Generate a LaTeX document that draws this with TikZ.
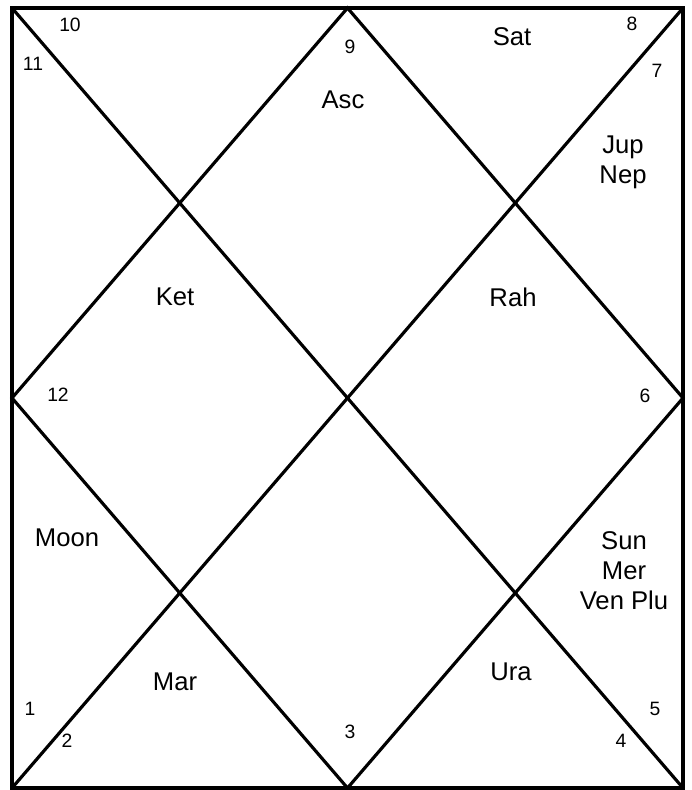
\documentclass[tikz,border=0pt]{standalone}
\usepackage{fontspec}
\setmainfont{Liberation Sans}
\usepackage{tikz}
\usetikzlibrary{calc}

\begin{document}
\begin{tikzpicture}[x=0.02cm, y=-0.02cm, line width=1.8pt]
\tikzset{planet/.style={font=\fontsize{14.6pt}{17pt}\selectfont, align=center, inner sep=0pt},
         housenum/.style={font=\fontsize{11pt}{12pt}\selectfont, inner sep=0pt}}
\useasboundingbox (0,0) rectangle (692,790);
% Frame and corners
\coordinate (tl) at (12,8);
\coordinate (tr) at (683,8);
\coordinate (br) at (683,788);
\coordinate (bl) at (12,788);
\coordinate (tm) at ($(tl)!0.5!(tr)$);
\coordinate (rm) at ($(tr)!0.5!(br)$);
\coordinate (bm) at ($(bl)!0.5!(br)$);
\coordinate (lm) at ($(tl)!0.5!(bl)$);
\draw (tl) -- (tr) -- (br) -- (bl) -- cycle;
\draw (tl) -- (br);
\draw (tr) -- (bl);
\draw (tm) -- (rm) -- (bm) -- (lm) -- cycle;
% House numbers
\node[housenum] (h10) at (70,25) {10};
\node[housenum] (h11) at (33,64) {11};
\node[housenum] (h9) at (350,47) {9};
\node[housenum] (h8) at (632,24) {8};
\node[housenum] (h7) at (657,71) {7};
\node[housenum] (h12) at (58,395) {12};
\node[housenum] (h6) at (645,396) {6};
\node[housenum] (h1) at (30,709) {1};
\node[housenum] (h2) at (67,741) {2};
\node[housenum] (h3) at (350,732) {3};
\node[housenum] (h4) at (621,741) {4};
\node[housenum] (h5) at (655,709) {5};
% Planets
\node[planet] (asc) at (343,100) {Asc};
\node[planet] (sat) at (512,37) {Sat};
\node[planet] (jup) at (623,162) {Jup\\Nep};
\node[planet] (ket) at (175,297) {Ket};
\node[planet] (rah) at (513,297) {Rah};
\node[planet] (moon) at (67,538) {Moon};
\node[planet] (sun) at (624,571) {Sun\\Mer\\Ven Plu};
\node[planet] (mar) at (175,682) {Mar};
\node[planet] (ura) at (511,672) {Ura};
\end{tikzpicture}
\end{document}
